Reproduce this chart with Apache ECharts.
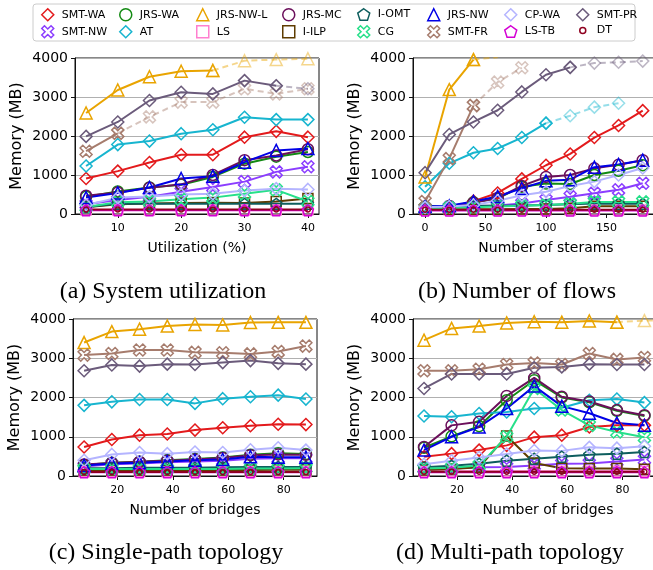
<!DOCTYPE html>
<html><head><meta charset="utf-8">
<script src="https://cdn.jsdelivr.net/npm/echarts@6/dist/echarts.min.js"></script>
<style>html,body{margin:0;padding:0;background:#fff;overflow:hidden;width:653px;height:570px}#c{width:700px;height:570px}</style>
</head><body><div id="c"></div>
<script>
// ---------- series names (plot order) ----------
const names = ['SMT-WA','SMT-NW','JRS-WA','AT','JRS-NW-L','LS','JRS-MC','I-ILP','I-OMT','CG','JRS-NW','SMT-FR','CP-WA','LS-TB','SMT-PR','DT'];

// ---------- (a) System utilization ----------
const aX = [5,10,15,20,25,30,35,40];
const aTicks = [10,20,30,40];
const aSMTWA  = [910,1100,1320,1520,1520,1970,2120,1970];
const aSMTNW  = [250,360,440,570,690,830,1080,1210];
const aJRSWA  = [440,580,680,750,950,1290,1470,1590];
const aAT     = [1230,1780,1870,2060,2160,2480,2420,2420];
const aJRSNWL = [2590,3180,3520,3660,3680,null,null,null];
const aJRSNWLd= [null,null,null,null,3680,3930,3960,3980];
const aLS     = [100,100,100,100,100,100,100,100];
const aJRSMC  = [470,550,670,760,1000,1380,1500,1660];
const aIILP   = [170,250,270,280,290,280,320,400];
const aIOMT   = [180,260,260,260,260,260,260,260];
const aCG     = [180,300,320,380,420,520,620,320];
const aJRSNW  = [420,540,680,910,970,1330,1630,1680];
const aSMTFR  = [1610,2070,null,null,null,null,null,null];
const aSMTFRd = [null,2070,2490,2870,2870,3210,3080,3210];
const aCPWA   = [230,420,450,500,520,600,650,630];
const aLSTB   = [95,95,95,95,95,95,95,95];
const aSMTPR  = [1990,2360,2910,3120,3080,3420,3290,null];
const aSMTPRd = [null,null,null,null,null,null,3290,3210];
const aDT     = [115,115,115,115,115,115,115,115];

// ---------- (b) Number of flows ----------
const bX = [0,20,40,60,80,100,120,140,160,180];
const bTicks = [0,50,100,150,200];
const bSMTWA  = [150,160,330,540,900,1250,1540,1960,2270,2650];
const bSMTNW  = [150,170,200,220,270,360,440,530,620,790];
const bJRSWA  = [180,200,300,400,700,780,770,1000,1110,1250];
const bAT     = [700,1300,1570,1680,1960,2330,null,null,null,null];
const bATd    = [null,null,null,null,null,2330,2520,2740,2840,null];
const bJRSNWL = [950,3190,3960,null,null,null,null,null,null,null];
const bJRSNWLd= [null,null,3960,4020,null,null,null,null,null,null];
const bLS     = [100,100,100,100,100,100,100,100,100,100];
const bJRSMC  = [190,200,290,410,720,950,1000,1170,1260,1380];
const bIILP   = [120,120,120,120,130,130,150,200,200,200];
const bIOMT   = [200,200,210,210,220,230,250,270,260,260];
const bCG     = [150,160,170,190,210,230,260,310,310,310];
const bJRSNW  = [190,210,320,450,660,850,880,1200,1270,1380];
const bSMTFR  = [320,1420,2780,null,null,null,null,null,null,null];
const bSMTFRd = [null,null,2780,3380,3750,null,null,null,null,null];
const bCPWA   = [170,190,230,340,480,570,720,830,1000,1180];
const bLSTB   = [90,90,90,90,90,90,90,90,90,90];
const bSMTPR  = [1060,2040,2360,2660,3130,3570,3760,null,null,null];
const bSMTPRd = [null,null,null,null,null,null,3760,3870,3890,3920];
const bDT     = [110,110,110,110,110,110,110,110,110,110];

// ---------- (c) Single-path topology ----------
const cX = [8,18,28,38,48,58,68,78,88];
const cTicks = [20,40,60,80];
const cSMTWA  = [740,930,1040,1070,1170,1230,1280,1320,1310];
const cSMTNW  = [240,300,320,350,370,390,440,450,450];
const cJRSWA  = [280,340,360,400,430,470,540,580,560];
const cAT     = [1800,1890,1950,1950,1850,1970,2020,2060,1960];
const cJRSNWL = [3400,3680,3740,3820,3860,3850,3910,3915,3915];
const cLS     = [110,110,110,110,110,110,110,110,110];
const cJRSMC  = [290,330,360,390,420,460,530,550,540];
const cIILP   = [150,150,150,150,150,150,150,160,160];
const cIOMT   = [200,200,210,210,210,220,230,230,230];
const cCG     = [180,180,180,180,180,180,190,190,200];
const cJRSNW  = [270,320,340,370,400,420,490,480,480];
const cSMTFR  = [3080,3120,3210,3210,3150,3140,3110,3170,3310];
const cCPWA   = [400,550,600,570,610,600,670,720,660];
const cLSTB   = [95,95,95,95,95,95,95,95,95];
const cSMTPR  = [2680,2830,2800,2850,2840,2890,2940,2870,2850];
const cDT     = [105,105,105,105,105,105,105,105,105];

// ---------- (d) Multi-path topology ----------
const dX = [8,18,28,38,48,58,68,78,88,98];
const dTicks = [20,40,60,80,100];
const dSMTWA  = [490,570,660,780,990,1040,1250,1290,1290];
const dSMTNW  = [190,190,220,230,270,310,320,370,420];
const dJRSWA  = [720,1010,1270,1930,2440,2000,1880,1660,1530];
const dAT     = [1530,1510,1590,1630,1720,1740,1930,1960,1870];
const dJRSNWL = [3460,3760,3820,3900,3930,3920,3950,3920,null,null];
const dJRSNWLd= [null,null,null,null,null,null,null,3920,3960,3960];
const dLS     = [120,120,120,120,120,120,120,120,120];
const dJRSMC  = [740,1290,1380,2040,2500,2020,1900,1680,1550];
const dIILP   = [150,180,220,1020,330,200,190,190,170];
const dIOMT   = [220,260,310,390,440,490,540,570,610];
const dCG     = [190,210,270,1000,2230,1680,1290,1120,990];
const dJRSNW  = [660,1000,1250,1720,2290,1780,1600,1350,1290];
const dSMTFR  = [2680,2680,2720,2840,2880,2840,3120,2970,3020];
const dCPWA   = [300,390,470,560,650,640,730,710,760];
const dLSTB   = [95,95,95,95,95,95,95,95,95];
const dSMTPR  = [2230,2600,2600,2600,2760,2780,2850,2840,2840];
const dDT     = [110,110,110,110,110,110,110,110,110];

const yTicks = [0,1000,2000,3000,4000];

// ---------- styles ----------
const XSYM = 'path://M-1,-0.55 L-0.55,-1 L0,-0.45 L0.55,-1 L1,-0.55 L0.45,0 L1,0.55 L0.55,1 L0,0.45 L-0.55,1 L-1,0.55 L-0.45,0 Z';
const PENT = 'path://M0,-1 L0.951,-0.309 L0.588,0.809 L-0.588,0.809 L-0.951,-0.309 Z';
const styles = {
  'SMT-WA':  {c:'#e31a1c', s:'diamond', z:12},
  'SMT-NW':  {c:'#8b3dff', s:XSYM, z:12},
  'JRS-WA':  {c:'#138a13', s:'circle', z:11},
  'AT':      {c:'#17b5cf', s:'diamond', z:12},
  'JRS-NW-L':{c:'#e9a400', s:'triangle', z:12},
  'LS':      {c:'#ff7fcf', s:'rect', z:10},
  'JRS-MC':  {c:'#6b0f5b', s:'circle', z:11},
  'I-ILP':   {c:'#5e3c00', s:'rect', z:10},
  'I-OMT':   {c:'#0e5e5e', s:PENT, z:11},
  'CG':      {c:'#27e08a', s:XSYM, z:12},
  'JRS-NW':  {c:'#0000e6', s:'triangle', z:12},
  'SMT-FR':  {c:'#a67c6d', s:XSYM, z:12},
  'CP-WA':   {c:'#b4b4ff', s:'diamond', z:12},
  'LS-TB':   {c:'#d400d4', s:PENT, z:11},
  'SMT-PR':  {c:'#6b5b7b', s:'diamond', z:12},
  'DT':      {c:'#8f0020', s:'circle', z:5}
};

const plots = [
  {x:aX, ticks:aTicks, min:3.25, max:41.75, name:'Utilization (%)',
   solid:{'SMT-WA':aSMTWA,'SMT-NW':aSMTNW,'JRS-WA':aJRSWA,'AT':aAT,'JRS-NW-L':aJRSNWL,'LS':aLS,'JRS-MC':aJRSMC,'I-ILP':aIILP,'I-OMT':aIOMT,'CG':aCG,'JRS-NW':aJRSNW,'SMT-FR':aSMTFR,'CP-WA':aCPWA,'LS-TB':aLSTB,'SMT-PR':aSMTPR,'DT':aDT},
   dashed:{'JRS-NW-L':aJRSNWLd,'SMT-FR':aSMTFRd,'SMT-PR':aSMTPRd},
   grid:{left:75, top:58, width:244, height:156}},
  {x:bX, ticks:bTicks, min:-10, max:210, name:'Number of sterams',
   solid:{'SMT-WA':bSMTWA,'SMT-NW':bSMTNW,'JRS-WA':bJRSWA,'AT':bAT,'JRS-NW-L':bJRSNWL,'LS':bLS,'JRS-MC':bJRSMC,'I-ILP':bIILP,'I-OMT':bIOMT,'CG':bCG,'JRS-NW':bJRSNW,'SMT-FR':bSMTFR,'CP-WA':bCPWA,'LS-TB':bLSTB,'SMT-PR':bSMTPR,'DT':bDT},
   dashed:{'AT':bATd,'JRS-NW-L':bJRSNWLd,'SMT-FR':bSMTFRd,'SMT-PR':bSMTPRd},
   grid:{left:413, top:58, width:266, height:156}},
  {x:cX, ticks:cTicks, min:4, max:92, name:'Number of bridges',
   solid:{'SMT-WA':cSMTWA,'SMT-NW':cSMTNW,'JRS-WA':cJRSWA,'AT':cAT,'JRS-NW-L':cJRSNWL,'LS':cLS,'JRS-MC':cJRSMC,'I-ILP':cIILP,'I-OMT':cIOMT,'CG':cCG,'JRS-NW':cJRSNW,'SMT-FR':cSMTFR,'CP-WA':cCPWA,'LS-TB':cLSTB,'SMT-PR':cSMTPR,'DT':cDT},
   dashed:{},
   grid:{left:73, top:319, width:244, height:157}},
  {x:dX, ticks:dTicks, min:4, max:102, name:'Number of bridges',
   solid:{'SMT-WA':dSMTWA,'SMT-NW':dSMTNW,'JRS-WA':dJRSWA,'AT':dAT,'JRS-NW-L':dJRSNWL,'LS':dLS,'JRS-MC':dJRSMC,'I-ILP':dIILP,'I-OMT':dIOMT,'CG':dCG,'JRS-NW':dJRSNW,'SMT-FR':dSMTFR,'CP-WA':dCPWA,'LS-TB':dLSTB,'SMT-PR':dSMTPR,'DT':dDT},
   dashed:{'JRS-NW-L':dJRSNWLd},
   grid:{left:413, top:319, width:270, height:157}}
];

const FONT = 'DejaVu Sans';
const grids = [], xAxes = [], yAxes = [], series = [];

function pairs(xs, ys){ const out=[]; ys.forEach((v,i)=>{ if(v!=null) out.push([xs[i], v]); }); return out; }
function mkSeries(gi, name, xs, ys, dashed){
  const st = styles[name];
  const op = dashed ? 0.45 : 1;
  return {
    type:'line', name, xAxisIndex:gi, yAxisIndex:gi, data:pairs(xs, ys),
    symbol:st.s, symbolSize:st.z, showAllSymbol:true, silent:true, animation:false,
    itemStyle:{color:'rgba(0,0,0,0)', borderColor:st.c, borderWidth:1.5, opacity:op},
    lineStyle:{color:st.c, width:2, type: dashed ? [6,4] : 'solid', opacity:op},
    emphasis:{disabled:true}
  };
}

plots.forEach((p, gi) => {
  grids.push(Object.assign({show:true, borderColor:'#111', borderWidth:1, backgroundColor:'transparent'}, p.grid));
  xAxes.push({
    type:'value', gridIndex:gi, min:p.min, max:p.max,
    name:p.name, nameLocation:'middle', nameGap:27,
    nameTextStyle:{fontSize:14, color:'#000', fontFamily:FONT},
    axisLine:{show:true, onZero:false, lineStyle:{color:'#111', width:1}},
    axisTick:{show:true, inside:false, length:4, customValues:p.ticks, lineStyle:{color:'#111'}},
    axisLabel:{show:true, customValues:p.ticks, fontSize:11, margin:9, color:'#000', fontFamily:FONT, formatter:v=>String(v)},
    splitLine:{show:false}
  });
  yAxes.push({
    type:'value', gridIndex:gi, min:0, max:4000, interval:1000,
    name:'Memory (MB)', nameLocation:'middle', nameGap:50,
    nameTextStyle:{fontSize:16, color:'#000', fontFamily:FONT},
    axisLine:{show:true, onZero:false, lineStyle:{color:'#111', width:1}},
    axisTick:{show:true, inside:false, length:4, lineStyle:{color:'#111'}},
    axisLabel:{show:true, fontSize:14, margin:7, color:'#000', fontFamily:FONT, formatter:v=>String(v)},
    splitLine:{show:true, lineStyle:{color:'#b0b0b0', width:1}}
  });
  names.forEach(n => {
    series.push(mkSeries(gi, n, p.x, p.solid[n], false));
    if (p.dashed[n]) series.push(mkSeries(gi, n, p.x, p.dashed[n], true));
  });
});

// legend layout: 8 columns x 2 rows, column-major
const colX = [47,125,202,288,363,433,510,582];
const rowY = [14,31];
const legends = names.map((n, i) => {
  const st = styles[n];
  const col = Math.floor(i/2), row = i%2;
  const w = n === 'DT' ? 6 : 12;
  return {
    show:true, selectedMode:false, padding:0, orient:'horizontal',
    left: colX[col] - w/2, top: rowY[row] - 6,
    itemWidth:w, itemHeight:12,
    data:[{name:n, icon:st.s, itemStyle:{color:'rgba(0,0,0,0)', borderColor:st.c, borderWidth:1.5}}],
    textStyle:{fontSize:11, color:'#000', fontFamily:FONT, padding:[0,0,0, n==='DT'?6:3]},
    z:10
  };
});

const caps = [
  {x:163, y:292, t:'(a) System utilization'},
  {x:517, y:292, t:'(b) Number of flows'},
  {x:166, y:553, t:'(c) Single-path topology'},
  {x:510, y:553, t:'(d) Multi-path topology'}
];
const graphics = [
  {type:'rect', shape:{x:33, y:4, width:602, height:37, r:3}, style:{fill:'#fff', stroke:'#cccccc', lineWidth:1}, z:1, silent:true}
].concat(caps.map(c => ({
  type:'text', x:c.x, y:c.y, silent:true, z:5,
  style:{text:c.t, fill:'#000', font:'24px "Liberation Serif"', align:'center', verticalAlign:'middle'}
})));

const chart = echarts.init(document.getElementById('c'), null, {renderer:'canvas'});
chart.setOption({
  animation:false,
  backgroundColor:'#fff',
  textStyle:{fontFamily:FONT},
  grid:grids, xAxis:xAxes, yAxis:yAxes, series:series,
  legend:legends,
  graphic:graphics
});
</script></body></html>
